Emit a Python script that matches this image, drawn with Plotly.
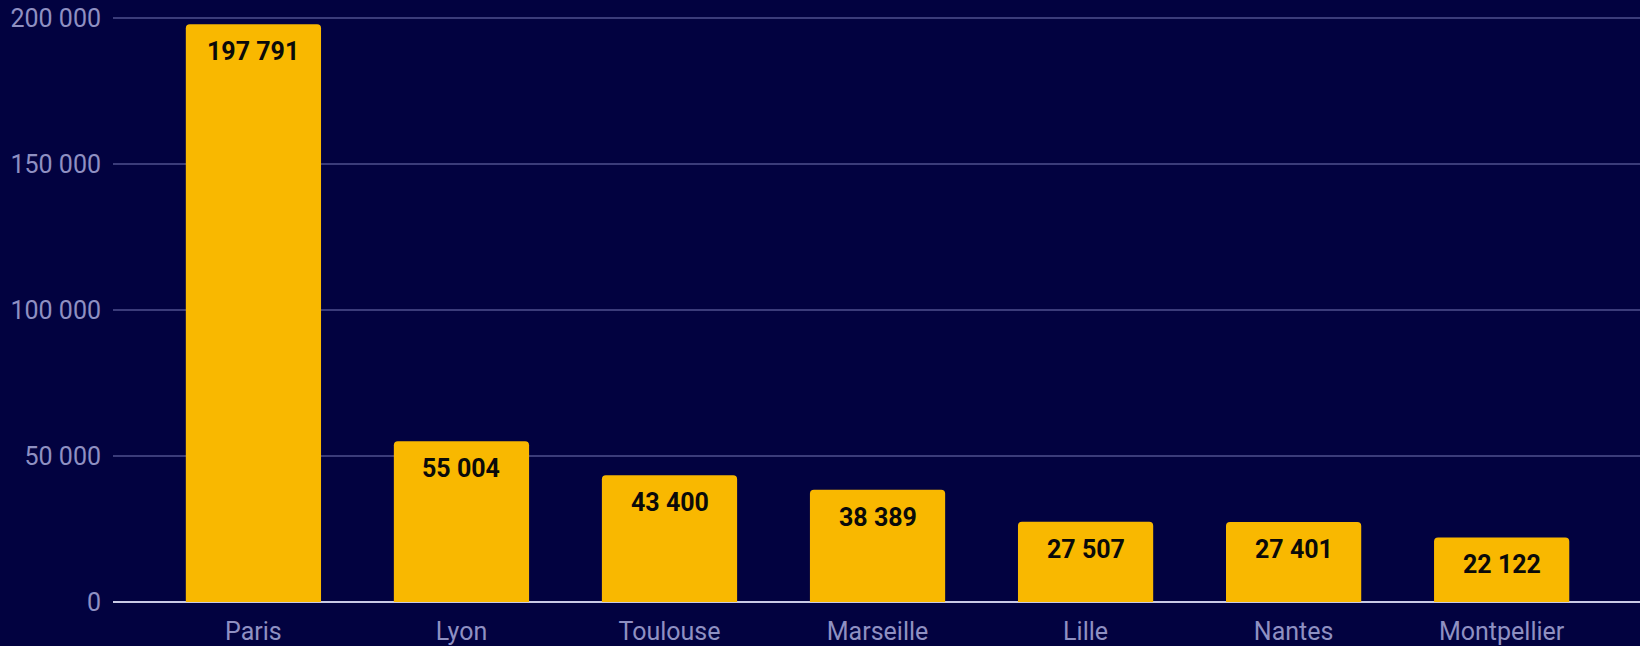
import plotly.graph_objects as go

# Student population by city
cities = ["Paris", "Lyon", "Toulouse", "Marseille", "Lille", "Nantes", "Montpellier"]
students = [197791, 55004, 43400, 38389, 27507, 27401, 22122]
y_ticks = [0, 50000, 100000, 150000, 200000]

BG = "#020240"
BAR = "#F9B800"
TICK_COLOR = "#8f90c2"
GRID = "#3b3c7a"


def fmt(v):
    return f"{v:,}".replace(",", " ")


fig = go.Figure()
fig.add_trace(go.Bar(
    x=cities,
    y=students,
    marker=dict(color=BAR, cornerradius=4, line=dict(width=0)),
    width=0.65,
    hoverinfo="x+y",
))

for c, v in zip(cities, students):
    fig.add_annotation(
        x=c, y=v, text=f"<b>{fmt(v)}</b>",
        showarrow=False, yanchor="top", yshift=-11,
        font=dict(family="Roboto", size=25, color="#0a0a0a"),
    )

fig.update_layout(
    width=1640, height=646,
    paper_bgcolor=BG, plot_bgcolor=BG,
    margin=dict(l=113, r=0, t=12, b=44),
    showlegend=False,
    font=dict(family="Roboto", size=25, color=TICK_COLOR),
    bargap=0.35,
)
fig.update_xaxes(
    range=[-0.675, 6.665],
    showgrid=False,
    showline=False,
    zeroline=False,
    ticks="outside", ticklen=7, tickcolor=BG,
    tickfont=dict(family="Roboto", size=25, color=TICK_COLOR),
)
fig.update_yaxes(
    range=[0, 202000],
    tickvals=y_ticks,
    ticktext=[fmt(t) for t in y_ticks],
    showgrid=True, gridcolor=GRID, gridwidth=1.5,
    zeroline=True, zerolinecolor="#c9cae6", zerolinewidth=2,
    ticks="outside", ticklen=6, tickcolor=BG,
    tickfont=dict(family="Roboto", size=25, color=TICK_COLOR),
)

fig.write_html("out.html")
